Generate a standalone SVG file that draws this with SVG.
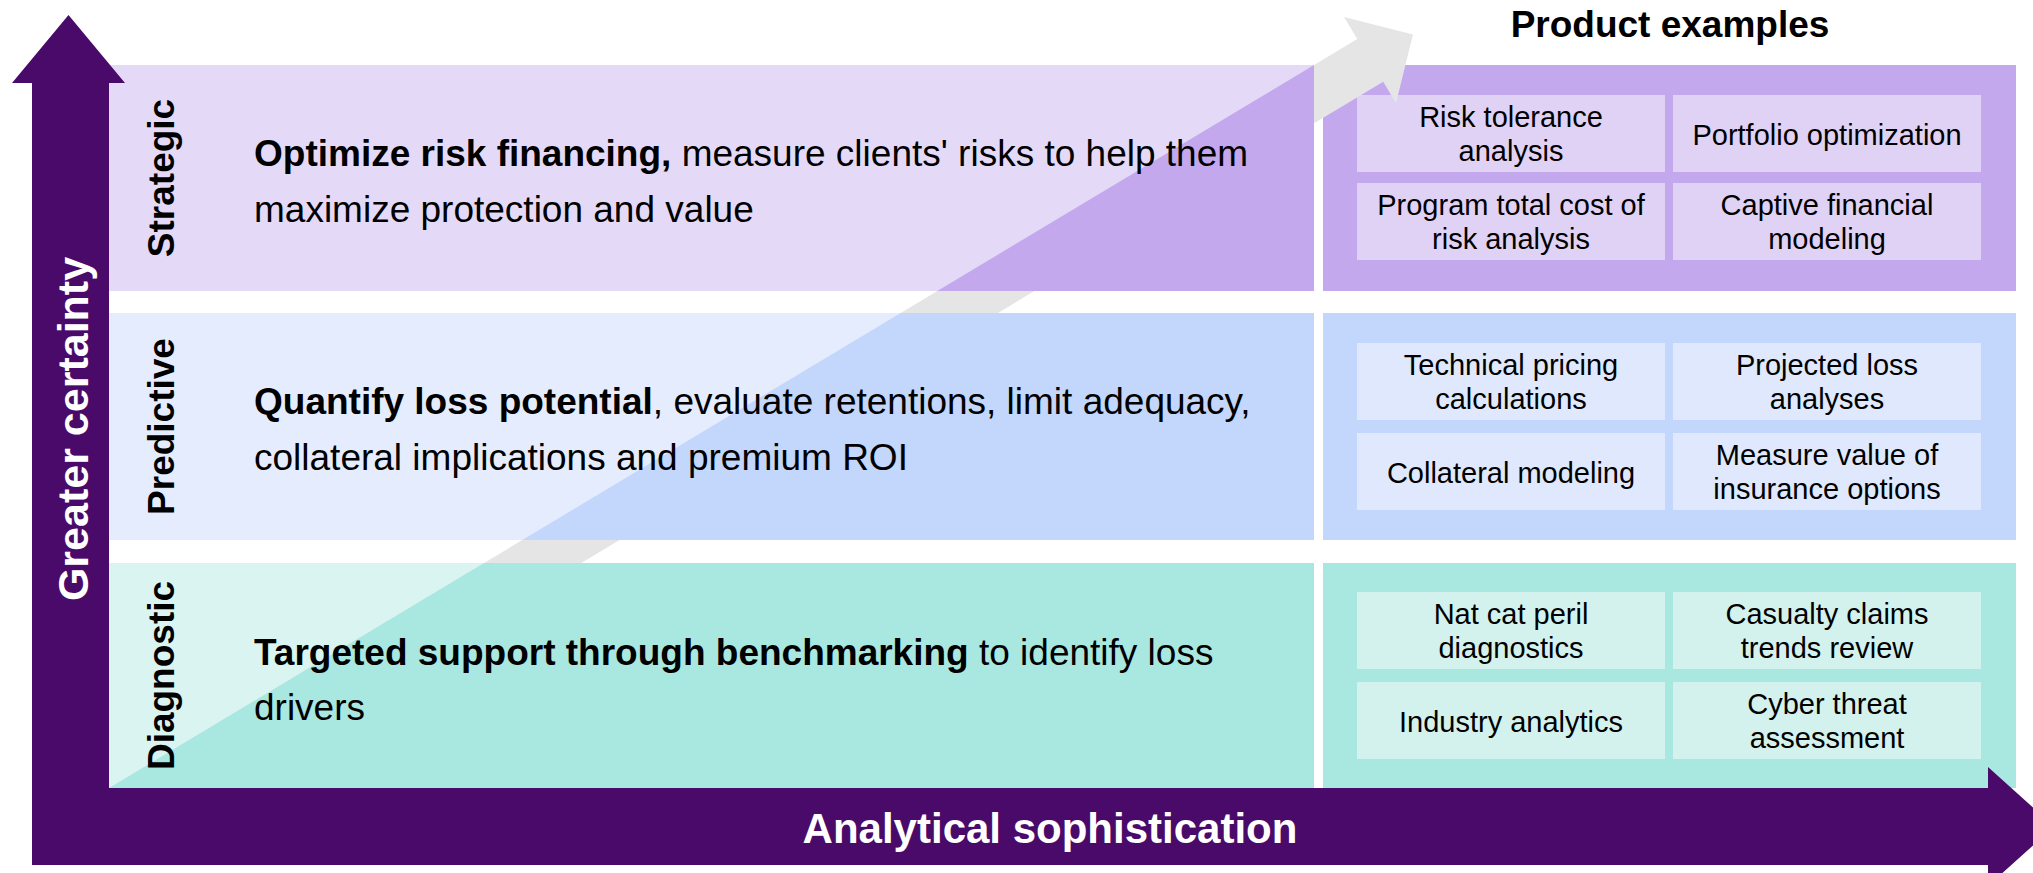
<svg xmlns="http://www.w3.org/2000/svg" width="2033" height="873" viewBox="0 0 2033 873">
  <defs>
    <style>
      text { font-family: "Liberation Sans", Arial, sans-serif; fill: #000; }
      .tier { font-size: 37px; font-weight: bold; text-anchor: middle; }
      .desc { font-size: 37px; }
      .desc tspan.b { font-weight: bold; }
      .prod { font-size: 29px; text-anchor: middle; }
      .axis-label { font-size: 43px; font-weight: bold; fill: #fff; text-anchor: middle; }
      .heading { font-size: 37px; font-weight: bold; text-anchor: middle; }
      .axis { fill: #4A0A6A; }
      .s-light { fill: #E4DAF8; } .s-dark { fill: #C3A8EE; } .s-box { fill: #E0D2F5; }
      .p-light { fill: #E5ECFD; } .p-dark { fill: #C3D6FC; } .p-box { fill: #DFE8FC; }
      .d-light { fill: #DAF4F1; } .d-dark { fill: #A9E7E1; } .d-box { fill: #D3F2EE; }
      .trend { fill: #E5E5E5; }
    </style>
  </defs>

  <rect width="2033" height="873" fill="#fff"/>

  <!-- heading over the product column -->
  <text id="product-heading" class="heading" x="1670" y="37">Product examples</text>

  <!-- right column: product examples per tier -->
  <g id="strategic-products">
    <rect class="s-dark" x="1323" y="65" width="693" height="226"/>
    <rect class="s-box" x="1357" y="95" width="308" height="77"/>
    <rect class="s-box" x="1673" y="95" width="308" height="77"/>
    <rect class="s-box" x="1357" y="183" width="308" height="77"/>
    <rect class="s-box" x="1673" y="183" width="308" height="77"/>
    <text class="prod" x="1511" y="126.5">Risk tolerance</text>
    <text class="prod" x="1511" y="161">analysis</text>
    <text class="prod" x="1827" y="144.5">Portfolio optimization</text>
    <text class="prod" x="1511" y="214.5">Program total cost of</text>
    <text class="prod" x="1511" y="249">risk analysis</text>
    <text class="prod" x="1827" y="214.5">Captive financial</text>
    <text class="prod" x="1827" y="249">modeling</text>
  </g>

  <g id="predictive-products">
    <rect class="p-dark" x="1323" y="313" width="693" height="227"/>
    <rect class="p-box" x="1357" y="343" width="308" height="77"/>
    <rect class="p-box" x="1673" y="343" width="308" height="77"/>
    <rect class="p-box" x="1357" y="433" width="308" height="77"/>
    <rect class="p-box" x="1673" y="433" width="308" height="77"/>
    <text class="prod" x="1511" y="374.5">Technical pricing</text>
    <text class="prod" x="1511" y="409">calculations</text>
    <text class="prod" x="1827" y="374.5">Projected loss</text>
    <text class="prod" x="1827" y="409">analyses</text>
    <text class="prod" x="1511" y="482.5">Collateral modeling</text>
    <text class="prod" x="1827" y="464.5">Measure value of</text>
    <text class="prod" x="1827" y="499">insurance options</text>
  </g>

  <g id="diagnostic-products">
    <rect class="d-dark" x="1323" y="563" width="693" height="225"/>
    <rect class="d-box" x="1357" y="592" width="308" height="77"/>
    <rect class="d-box" x="1673" y="592" width="308" height="77"/>
    <rect class="d-box" x="1357" y="682" width="308" height="77"/>
    <rect class="d-box" x="1673" y="682" width="308" height="77"/>
    <text class="prod" x="1511" y="623.5">Nat cat peril</text>
    <text class="prod" x="1511" y="658">diagnostics</text>
    <text class="prod" x="1827" y="623.5">Casualty claims</text>
    <text class="prod" x="1827" y="658">trends review</text>
    <text class="prod" x="1511" y="731.5">Industry analytics</text>
    <text class="prod" x="1827" y="713.5">Cyber threat</text>
    <text class="prod" x="1827" y="748">assessment</text>
  </g>

  <!-- connectors: diagonal trend arrow, shown in the gaps between tiers -->
  <g id="connectors">
    <polygon class="trend" points="109,788 1357.3,39 1344,17 1413,34.5 1396,103 1383.2,81.8 134.7,830.9"/>
  </g>

  <!-- left column: tier descriptions, split along the diagonal -->
  <g id="strategic">
    <rect class="s-light" x="109" y="65" width="1205" height="226"/>
    <polygon class="s-dark" points="937.3,291 1314,65 1314,291"/>
    <text class="tier" transform="translate(174,178) rotate(-90)">Strategic</text>
    <text class="desc" x="254" y="166"><tspan class="b">Optimize risk financing,</tspan> measure clients' risks to help them</text>
    <text class="desc" x="254" y="222">maximize protection and value</text>
  </g>

  <g id="predictive">
    <rect class="p-light" x="109" y="313" width="1205" height="227"/>
    <polygon class="p-dark" points="522.3,540 900.7,313 1314,313 1314,540"/>
    <text class="tier" transform="translate(174,426.5) rotate(-90)">Predictive</text>
    <text class="desc" x="254" y="414"><tspan class="b">Quantify loss potential</tspan>, evaluate retentions, limit adequacy,</text>
    <text class="desc" x="254" y="470">collateral implications and premium ROI</text>
  </g>

  <g id="diagnostic">
    <rect class="d-light" x="109" y="563" width="1205" height="225"/>
    <polygon class="d-dark" points="109,788 484,563 1314,563 1314,788"/>
    <text class="tier" transform="translate(174,675.5) rotate(-90)">Diagnostic</text>
    <text class="desc" x="254" y="665"><tspan class="b">Targeted support through benchmarking</tspan> to identify loss</text>
    <text class="desc" x="254" y="720">drivers</text>
  </g>

  <!-- axes -->
  <g id="axis-y">
    <polygon class="axis" points="32,865 32,83 12,83 68.5,15 125,83 109,83 109,865"/>
    <text class="axis-label" transform="translate(88,429) rotate(-90)">Greater certainty</text>
  </g>

  <g id="axis-x">
    <polygon class="axis" points="32,788 1988,788 1988,767 2054,826.5 1988,886 1988,865 32,865"/>
    <text class="axis-label" style="font-size:42px" x="1050" y="843">Analytical sophistication</text>
  </g>
</svg>
